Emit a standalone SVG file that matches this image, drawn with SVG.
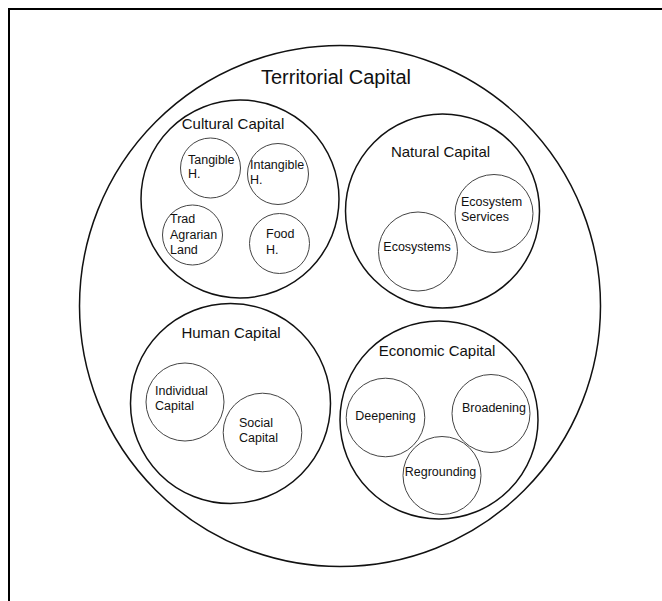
<svg xmlns="http://www.w3.org/2000/svg" width="662" height="601" viewBox="0 0 662 601">
<style>
.frame{fill:none;stroke:#000;stroke-width:2}
.outer{fill:none;stroke:#111;stroke-width:1.5}
.inner{fill:none;stroke:#444;stroke-width:1}
text{font-family:"Liberation Sans",Arial,sans-serif;fill:#111}
.t1{font-size:20px}
.t2{font-size:15px}
.t3{font-size:12.5px}
</style>
<rect width="662" height="601" fill="#fff"/>
<rect class="frame" x="9" y="9" width="700" height="700"/>
<g id="territorial">
<circle class="outer" cx="340" cy="306" r="260.5"/>
<text class="t1" x="336" y="84" text-anchor="middle">Territorial Capital</text>
</g>
<g id="cultural">
<circle class="outer" cx="240" cy="199" r="99"/>
<text class="t2" x="233" y="129" text-anchor="middle">Cultural Capital</text>
</g>
<g id="tangible">
<circle class="inner" cx="210.5" cy="168" r="30"/>
<text class="t3" x="188" y="164">Tangible</text>
<text class="t3" x="188" y="178">H.</text>
</g>
<g id="intangible">
<circle class="inner" cx="278" cy="174" r="30.5"/>
<text class="t3" x="250" y="169">Intangible</text>
<text class="t3" x="250" y="184">H.</text>
</g>
<g id="trad">
<circle class="inner" cx="192.5" cy="235" r="30"/>
<text class="t3" x="170" y="223">Trad</text>
<text class="t3" x="170" y="238.5">Agrarian</text>
<text class="t3" x="170" y="254">Land</text>
</g>
<g id="food">
<circle class="inner" cx="279.5" cy="243.5" r="30"/>
<text class="t3" x="266" y="238">Food</text>
<text class="t3" x="266" y="253.5">H.</text>
</g>
<g id="natural">
<circle class="outer" cx="442.5" cy="211" r="97"/>
<text class="t2" x="440.5" y="157" text-anchor="middle">Natural Capital</text>
</g>
<g id="ecoservices">
<circle class="inner" cx="494" cy="213.5" r="39"/>
<text class="t3" x="461" y="206">Ecosystem</text>
<text class="t3" x="461" y="221">Services</text>
</g>
<g id="ecosystems">
<circle class="inner" cx="418" cy="251.5" r="39.5"/>
<text class="t3" x="417" y="251" text-anchor="middle">Ecosystems</text>
</g>
<g id="human">
<circle class="outer" cx="230.5" cy="403.5" r="100"/>
<text class="t2" x="231" y="338" text-anchor="middle">Human Capital</text>
</g>
<g id="individual">
<circle class="inner" cx="185" cy="402" r="39"/>
<text class="t3" x="155" y="395">Individual</text>
<text class="t3" x="155" y="410">Capital</text>
</g>
<g id="social">
<circle class="inner" cx="262.5" cy="432.5" r="39.3"/>
<text class="t3" x="239" y="426.5">Social</text>
<text class="t3" x="239" y="441.5">Capital</text>
</g>
<g id="economic">
<circle class="outer" cx="439" cy="420" r="99"/>
<text class="t2" x="437" y="356" text-anchor="middle">Economic Capital</text>
</g>
<g id="deepening">
<circle class="inner" cx="385.5" cy="417.5" r="39.3"/>
<text class="t3" x="385.5" y="420" text-anchor="middle">Deepening</text>
</g>
<g id="broadening">
<circle class="inner" cx="491" cy="413.5" r="39"/>
<text class="t3" x="494" y="411.5" text-anchor="middle">Broadening</text>
</g>
<g id="regrounding">
<circle class="inner" cx="442" cy="475.5" r="39"/>
<text class="t3" x="440.5" y="475.5" text-anchor="middle">Regrounding</text>
</g>
<g id="connectors"/>
</svg>
